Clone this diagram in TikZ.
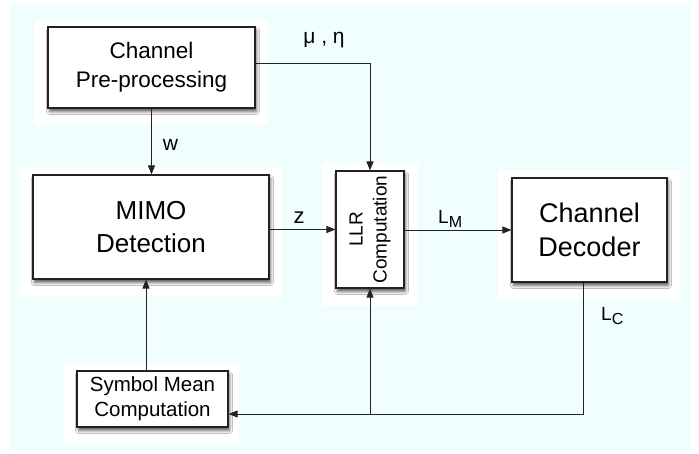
\documentclass[tikz,border=0pt]{standalone}
\usepackage{fontspec}
\setmainfont{Liberation Sans}
\usetikzlibrary{arrows.meta,shadows.blur}
\definecolor{bgcyan}{RGB}{240,254,254}
\definecolor{linegray}{RGB}{34,34,34}
\tikzset{
  blockbox/.style={draw=linegray,line width=1.2pt,fill=white,inner sep=0pt,align=center,
    blur shadow={shadow xshift=1.5pt,shadow yshift=-3.5pt,shadow blur radius=3pt,shadow opacity=65}},
  halo/.style={fill=white,draw=none},
  arr/.style={draw=linegray,line width=0.9pt,-{Triangle[length=9pt,width=7pt]}},
  plain/.style={draw=linegray,line width=0.9pt},
  lbl/.style={inner sep=0pt,anchor=base}
}
\begin{document}
\begin{tikzpicture}[x=1pt,y=-1pt]
\useasboundingbox (0,0) rectangle (699,453);
\fill[bgcyan] (10,3) rectangle (691,450);
% halos
\fill[white] (35,20) rectangle (268,125);
\fill[white] (20,167) rectangle (282,297);
\fill[white] (323,163) rectangle (418,306);
\fill[white] (498,170) rectangle (680,300);
\fill[white] (64,364) rectangle (239,444);
% blocks
\node[blockbox,minimum width=207pt,minimum height=81pt,font=\fontsize{22.5}{29}\selectfont] (top) at (151.5,67.5) {Channel\\Pre-processing};
\node[blockbox,minimum width=236pt,minimum height=104pt,font=\fontsize{26}{33}\selectfont] (mimo) at (151,227) {MIMO\\Detection};
\node[blockbox,minimum width=68pt,minimum height=117pt] (llr) at (370,229.5) {};
\node[rotate=90,align=center,inner sep=0pt,font=\fontsize{19}{24}\selectfont] (llrtext) at (llr.center) {LLR\\Computation};
\node[blockbox,minimum width=155pt,minimum height=104pt,font=\fontsize{27}{34}\selectfont] (dec) at (589.5,230) {Channel\\Decoder};
\node[blockbox,minimum width=151pt,minimum height=56pt,font=\fontsize{20.5}{25}\selectfont] (sym) at (152.5,399) {Symbol Mean\\Computation};
% connectors
\draw[arr] (top.south) -- (top.south |- mimo.north);
\draw[arr] ([yshift=4.5pt]top.east) -| (llr.north);
\draw[arr] (mimo.east |- llr.west) -- (llr.west);
\draw[arr] (llr.east |- dec.west) -- (dec.west);
\coordinate (fb) at (583,414);
\coordinate (jn) at (370,414);
\draw[arr] (dec.south -| fb) -- (fb) -- (sym.east |- fb);
\draw[arr] (jn) -- (llr.south);
\draw[arr] ([xshift=-6.5pt]sym.north) -- ([xshift=-6.5pt]sym.north |- mimo.south);
% labels
\node[lbl,font=\fontsize{21}{25}\selectfont] (mueta) at (324,43) {μ , η};
\node[lbl,font=\fontsize{21}{25}\selectfont] (wl) at (170.5,150) {w};
\node[lbl,font=\fontsize{22}{25}\selectfont] (zl) at (299,223) {z};
\node[lbl,anchor=base west,font=\fontsize{19}{24}\selectfont] (lm) at (438,223) {L\raisebox{-0.25em}{\fontsize{16}{18}\selectfont M}};
\node[lbl,anchor=base west,font=\fontsize{19}{24}\selectfont] (lc) at (601,320) {L\raisebox{-0.25em}{\fontsize{16}{18}\selectfont C}};
\end{tikzpicture}
\end{document}
